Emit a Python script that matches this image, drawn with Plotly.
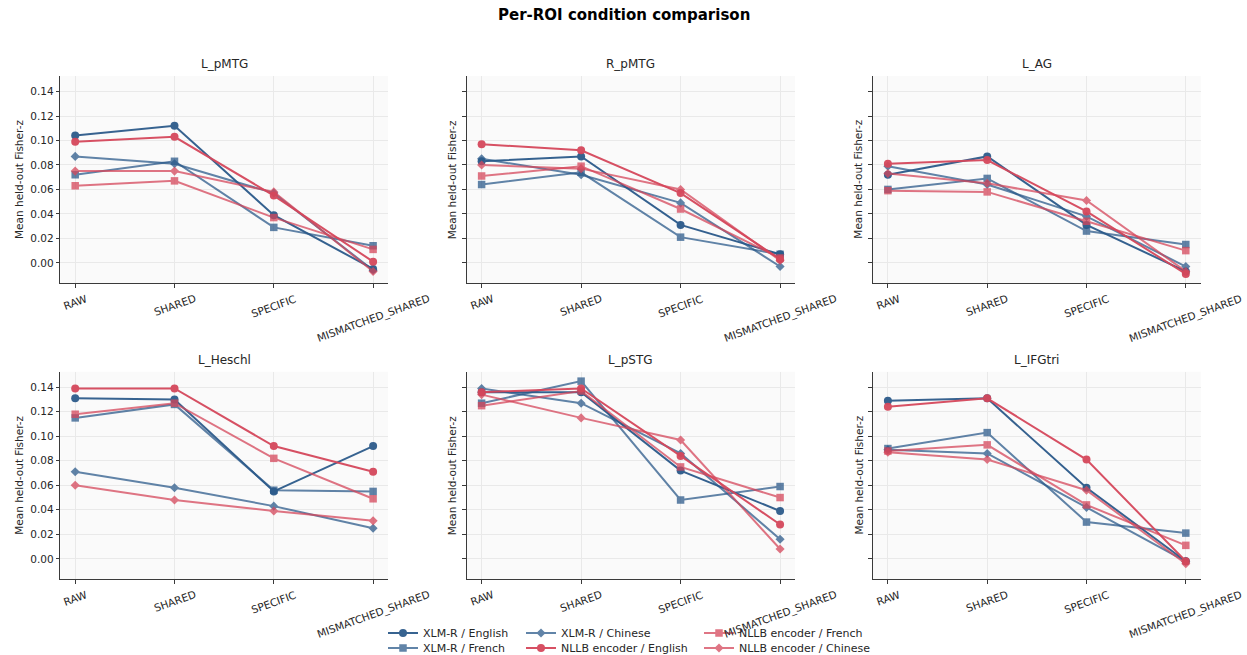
import plotly.graph_objects as go

# ---------------- data ----------------
conditions = ["RAW", "SHARED", "SPECIFIC", "MISMATCHED_SHARED"]
rois = ["L_pMTG", "R_pMTG", "L_AG", "L_Heschl", "L_pSTG", "L_IFGtri"]

# each list: one row per ROI (order as rois), values per condition
xlmr_english = [
    [0.104, 0.112, 0.039, -0.005],
    [0.083, 0.087, 0.031, 0.007],
    [0.072, 0.087, 0.031, -0.007],
    [0.131, 0.130, 0.055, 0.092],
    [0.136, 0.136, 0.072, 0.039],
    [0.129, 0.131, 0.058, -0.002],
]
xlmr_french = [
    [0.072, 0.083, 0.029, 0.014],
    [0.064, 0.074, 0.021, 0.007],
    [0.060, 0.069, 0.026, 0.015],
    [0.115, 0.126, 0.056, 0.055],
    [0.127, 0.145, 0.048, 0.059],
    [0.090, 0.103, 0.030, 0.021],
]
xlmr_chinese = [
    [0.087, 0.081, 0.057, -0.006],
    [0.085, 0.072, 0.049, -0.003],
    [0.079, 0.064, 0.038, -0.003],
    [0.071, 0.058, 0.043, 0.025],
    [0.139, 0.127, 0.086, 0.016],
    [0.089, 0.086, 0.042, -0.002],
]
nllb_english = [
    [0.099, 0.103, 0.055, 0.001],
    [0.097, 0.092, 0.057, 0.003],
    [0.081, 0.084, 0.042, -0.009],
    [0.139, 0.139, 0.092, 0.071],
    [0.136, 0.139, 0.084, 0.028],
    [0.124, 0.131, 0.081, -0.002],
]
nllb_french = [
    [0.063, 0.067, 0.037, 0.011],
    [0.071, 0.079, 0.044, 0.004],
    [0.059, 0.058, 0.034, 0.010],
    [0.118, 0.127, 0.082, 0.049],
    [0.125, 0.137, 0.075, 0.050],
    [0.088, 0.093, 0.044, 0.011],
]
nllb_chinese = [
    [0.075, 0.075, 0.058, -0.007],
    [0.080, 0.077, 0.060, 0.002],
    [0.073, 0.065, 0.051, -0.007],
    [0.060, 0.048, 0.039, 0.031],
    [0.134, 0.115, 0.097, 0.008],
    [0.087, 0.081, 0.056, -0.004],
]
y_ticks = [0.00, 0.02, 0.04, 0.06, 0.08, 0.10, 0.12, 0.14]

# ---------------- style ----------------
W, H = 1247, 655
FONT = "DejaVu Sans"
TXT = "#262626"
BLUE = "#2d5b8b"
RED = "#d5475b"

# name, data, colour, symbol, size, opacity, legend id, legend (x text start px, y centre px)
series = [
    ("XLM-R / English", xlmr_english, BLUE, "circle", 8, 0.95, "legend", (423, 633)),
    ("XLM-R / French", xlmr_french, BLUE, "square", 7.5, 0.75, "legend2", (423, 648)),
    ("XLM-R / Chinese", xlmr_chinese, BLUE, "diamond", 7, 0.75, "legend3", (561, 633)),
    ("NLLB encoder / English", nllb_english, RED, "circle", 8, 0.95, "legend4", (561, 648)),
    ("NLLB encoder / French", nllb_french, RED, "square", 7.5, 0.75, "legend5", (739, 633)),
    ("NLLB encoder / Chinese", nllb_chinese, RED, "diamond", 7, 0.75, "legend6", (739, 648)),
]

# panel pixel boxes
col_px = [(60.3, 388.0), (466.7, 795.0), (873.0, 1200.7)]
row_px = [(76.0, 283.3), (371.7, 579.3)]

allv = [v for s in series for row in s[1] for v in row]
vmin, vmax = min(allv), max(allv)
pad = 0.05 * (vmax - vmin)
y_range = [vmin - pad, vmax + pad]
x_range = [-0.15, len(conditions) - 1 + 0.15]

fig = go.Figure()
annotations = []

for k, roi in enumerate(rois):
    r, c = divmod(k, 3)
    ax = "" if k == 0 else str(k + 1)
    xa, ya = "x" + ax, "y" + ax
    x0, x1 = col_px[c]
    ytop, ybot = row_px[r]
    dom_x = [x0 / W, x1 / W]
    dom_y = [1 - ybot / H, 1 - ytop / H]
    common = dict(
        showline=True, linecolor="#3a3a3a", linewidth=1.1,
        ticks="outside", ticklen=3.5, tickwidth=1, tickcolor="#3a3a3a",
        showgrid=True, gridcolor="#e9e9e9", gridwidth=0.8,
        zeroline=False, mirror=False, automargin=False,
        tickfont=dict(family=FONT, size=10.5, color=TXT),
    )
    fig.layout["xaxis" + ax] = dict(
        domain=dom_x, anchor=ya, range=x_range,
        tickmode="array", tickvals=list(range(len(conditions))),
        ticktext=[""] * len(conditions), **common)
    fig.layout["yaxis" + ax] = dict(
        domain=dom_y, anchor=xa, range=y_range,
        tickmode="array", tickvals=y_ticks,
        ticktext=[f"{v:.2f}" for v in y_ticks],
        showticklabels=(c == 0), **common)

    for name, data, color, sym, msize, op, lg, _ in series:
        fig.add_trace(go.Scatter(
            x=list(range(len(conditions))), y=data[k],
            mode="lines+markers", name=name,
            line=dict(color=color, width=2),
            marker=dict(symbol=sym, size=msize, color=color),
            opacity=op, xaxis=xa, yaxis=ya,
            legend=lg, showlegend=(k == 0),
        ))

    # subplot title
    annotations.append(dict(
        text=roi, x=(x0 + x1) / 2 / W, y=1 - (ytop - 3) / H,
        xref="paper", yref="paper", xanchor="center", yanchor="bottom",
        showarrow=False, font=dict(family=FONT, size=12, color=TXT)))
    # y axis title
    off = 42 if c == 0 else 15
    annotations.append(dict(
        text="Mean held-out Fisher-z", x=(x0 - off) / W,
        y=1 - (ytop + ybot) / 2 / H, xref="paper", yref="paper",
        xanchor="center", yanchor="middle", textangle=-90,
        showarrow=False, font=dict(family=FONT, size=10.5, color=TXT)))
    # rotated category labels
    for i, cond in enumerate(conditions):
        annotations.append(dict(
            text=cond, x=i, xref=xa, y=1 - ybot / H, yref="paper",
            xanchor="center", yanchor="top", yshift=-6, textangle=-20,
            showarrow=False, font=dict(family=FONT, size=10.5, color=TXT)))

annotations.append(dict(
    text="<b>Per-ROI condition comparison</b>", x=0.5, y=1 - 15 / H,
    xref="paper", yref="paper", xanchor="center", yanchor="middle",
    showarrow=False, font=dict(family=FONT, size=15, color="#000")))

legends = {}
for name, data, color, sym, msize, op, lg, (tx, cy) in series:
    legends[lg] = dict(
        orientation="v", xanchor="left", yanchor="middle",
        xref="container", yref="container",
        x=(tx - 40) / W, y=1 - cy / H,
        bgcolor="rgba(0,0,0,0)", borderwidth=0,
        font=dict(family=FONT, size=11, color=TXT))

fig.update_layout(
    width=W, height=H, autosize=False,
    margin=dict(l=0, r=0, t=0, b=0, autoexpand=False),
    paper_bgcolor="white", plot_bgcolor="#fafafa",
    font=dict(family=FONT, color=TXT),
    annotations=annotations,
    **legends,
)

fig.write_html("out.html")
